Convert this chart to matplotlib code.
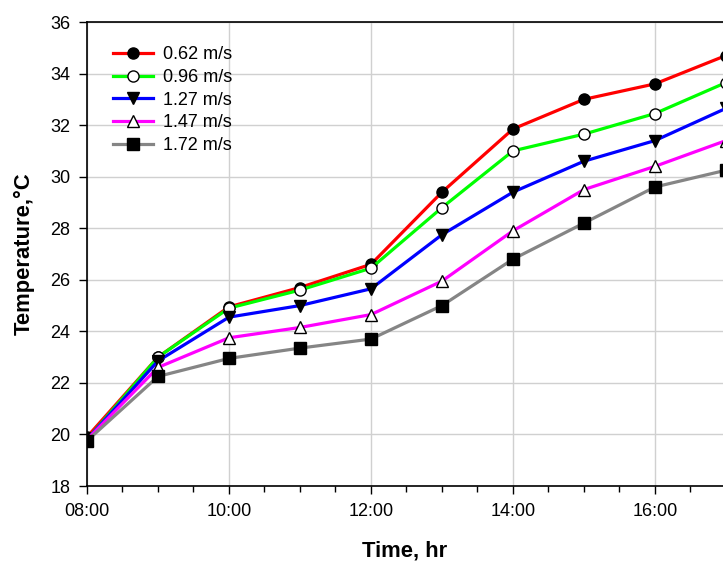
import numpy as np
import matplotlib.pyplot as plt
from matplotlib.ticker import MultipleLocator, FuncFormatter

plt.rcParams['font.family'] = ['Liberation Sans', 'DejaVu Sans']

# time of day in hours
hours = [8, 9, 10, 11, 12, 13, 14, 15, 16, 17]

# temperature (deg C) for each air velocity
t_062 = [19.9, 23.0, 24.95, 25.7, 26.6, 29.4, 31.85, 33.0, 33.6, 34.7]
t_096 = [19.8, 23.0, 24.9, 25.6, 26.45, 28.8, 31.0, 31.65, 32.45, 33.65]
t_127 = [19.8, 22.85, 24.55, 25.0, 25.65, 27.75, 29.4, 30.6, 31.4, 32.65]
t_147 = [19.8, 22.6, 23.75, 24.15, 24.65, 25.95, 27.9, 29.5, 30.4, 31.4]
t_172 = [19.75, 22.25, 22.95, 23.35, 23.7, 25.0, 26.8, 28.2, 29.6, 30.25]

labels = ['0.62 m/s', '0.96 m/s', '1.27 m/s', '1.47 m/s', '1.72 m/s']

fig = plt.figure(figsize=(7.23, 5.61), dpi=100)
ax = fig.add_axes([87 / 723, 1 - 486 / 561, 1 - 87 / 723, (486 - 22) / 561])

series = [
    (t_062, '#ff0000', 'o', 'black'),
    (t_096, '#00ff00', 'o', 'white'),
    (t_127, '#0000ff', 'v', 'black'),
    (t_147, '#ff00ff', '^', 'white'),
    (t_172, '#858585', 's', 'black'),
]
for (vals, col, mk, fc), lab in zip(series, labels):
    ax.plot(hours, vals, color=col, lw=2.3, marker=mk, markersize=8,
            markerfacecolor=fc, markeredgecolor='black', markeredgewidth=1.0,
            label=lab, zorder=3)

ax.set_xlim(8, 16.958)
ax.set_ylim(18, 36)
ax.xaxis.set_major_locator(MultipleLocator(2))
ax.xaxis.set_minor_locator(MultipleLocator(0.5))
ax.yaxis.set_major_locator(MultipleLocator(2))
ax.xaxis.set_major_formatter(FuncFormatter(lambda v, p: '%02d:00' % int(round(v))))

ax.grid(True, which='major', color='#d0d0d0', lw=1.0, zorder=0)
ax.set_axisbelow(True)
ax.tick_params(axis='both', which='major', direction='out', length=6, width=1,
               labelsize=13, pad=6)
ax.tick_params(axis='x', which='minor', direction='out', length=4, width=1)
for s in ['left', 'bottom', 'top']:
    ax.spines[s].set_linewidth(1.2)
ax.spines['right'].set_visible(False)

ax.set_xlabel('Time, hr', fontsize=15.8, fontweight='bold', labelpad=15)
ax.set_ylabel('Temperature,°C', fontsize=15.8, fontweight='bold', labelpad=11)

ax.legend(loc='upper left', frameon=False, fontsize=13, handlelength=2.2,
          labelspacing=0.32, borderaxespad=0.0, bbox_to_anchor=(0.03, 0.9635),
          handletextpad=0.55)

plt.savefig('out.png', dpi=100)
